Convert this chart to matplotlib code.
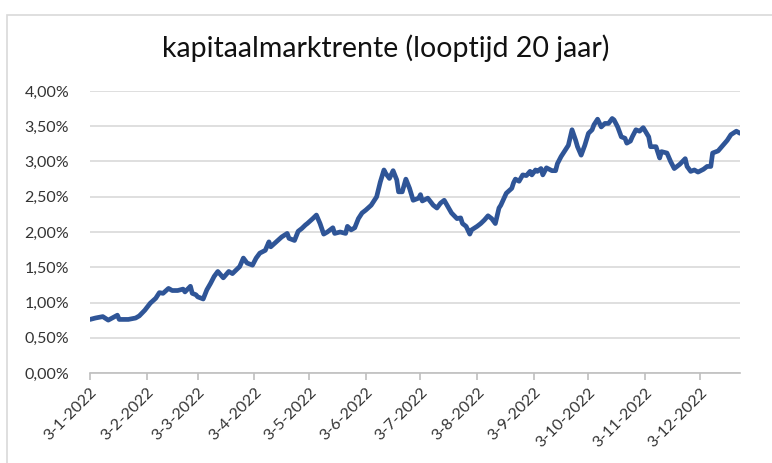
import matplotlib
matplotlib.use("Agg")
import matplotlib.pyplot as plt
import pandas as pd
from matplotlib.patches import Rectangle

title = "kapitaalmarktrente (looptijd 20 jaar)"

dates = [
    "2022-01-03", "2022-01-06", "2022-01-10", "2022-01-13", "2022-01-18", "2022-01-19",
    "2022-01-24", "2022-01-28", "2022-01-30", "2022-02-02", "2022-02-05", "2022-02-08",
    "2022-02-10", "2022-02-12", "2022-02-15", "2022-02-17", "2022-02-20", "2022-02-23",
    "2022-02-24", "2022-02-27", "2022-02-28", "2022-03-02", "2022-03-03", "2022-03-06",
    "2022-03-08", "2022-03-10", "2022-03-12", "2022-03-14", "2022-03-17", "2022-03-20",
    "2022-03-22", "2022-03-24", "2022-03-26", "2022-03-28", "2022-03-30", "2022-04-02",
    "2022-04-04", "2022-04-06", "2022-04-09", "2022-04-11", "2022-04-12", "2022-04-15",
    "2022-04-18", "2022-04-21", "2022-04-22", "2022-04-25", "2022-04-27", "2022-04-29",
    "2022-05-01", "2022-05-02", "2022-05-05", "2022-05-07", "2022-05-09", "2022-05-11",
    "2022-05-13", "2022-05-16", "2022-05-17", "2022-05-20", "2022-05-23", "2022-05-24",
    "2022-05-26", "2022-05-28", "2022-05-30", "2022-06-01", "2022-06-03", "2022-06-06",
    "2022-06-09", "2022-06-11", "2022-06-13", "2022-06-14", "2022-06-16", "2022-06-18",
    "2022-06-20", "2022-06-21", "2022-06-23", "2022-06-25", "2022-06-27", "2022-06-29",
    "2022-07-02", "2022-07-03", "2022-07-04", "2022-07-07", "2022-07-10", "2022-07-12",
    "2022-07-14", "2022-07-16", "2022-07-18", "2022-07-20", "2022-07-23", "2022-07-25",
    "2022-07-26", "2022-07-28", "2022-07-30", "2022-07-31", "2022-08-03", "2022-08-05",
    "2022-08-07", "2022-08-09", "2022-08-11", "2022-08-13", "2022-08-15", "2022-08-16",
    "2022-08-19", "2022-08-22", "2022-08-23", "2022-08-24", "2022-08-26", "2022-08-28",
    "2022-08-30", "2022-09-01", "2022-09-02", "2022-09-04", "2022-09-05", "2022-09-07",
    "2022-09-08", "2022-09-10", "2022-09-13", "2022-09-15", "2022-09-16", "2022-09-18",
    "2022-09-20", "2022-09-22", "2022-09-24", "2022-09-26", "2022-09-27", "2022-09-29",
    "2022-10-01", "2022-10-03", "2022-10-05", "2022-10-06", "2022-10-08", "2022-10-10",
    "2022-10-12", "2022-10-14", "2022-10-16", "2022-10-17", "2022-10-19", "2022-10-21",
    "2022-10-23", "2022-10-24", "2022-10-26", "2022-10-27", "2022-10-29", "2022-10-31",
    "2022-11-02", "2022-11-05", "2022-11-06", "2022-11-09", "2022-11-11", "2022-11-12",
    "2022-11-15", "2022-11-17", "2022-11-19", "2022-11-22", "2022-11-25", "2022-11-26",
    "2022-11-28", "2022-11-30", "2022-12-02", "2022-12-05", "2022-12-07", "2022-12-09",
    "2022-12-10", "2022-12-13", "2022-12-15", "2022-12-18", "2022-12-20", "2022-12-23",
    "2022-12-25",
]

rates = [
    0.76, 0.78, 0.80, 0.75, 0.82, 0.76,
    0.76, 0.78, 0.81, 0.89, 0.99, 1.06,
    1.14, 1.13, 1.20, 1.17, 1.17, 1.19,
    1.15, 1.23, 1.13, 1.11, 1.08, 1.05,
    1.18, 1.27, 1.37, 1.44, 1.35, 1.44,
    1.41, 1.46, 1.51, 1.63, 1.56, 1.53,
    1.63, 1.70, 1.74, 1.86, 1.79, 1.86,
    1.93, 1.98, 1.91, 1.88, 2.01, 2.05,
    2.10, 2.12, 2.19, 2.24, 2.12, 1.97,
    2.00, 2.06, 1.98, 2.00, 1.98, 2.08,
    2.03, 2.06, 2.19, 2.27, 2.31, 2.38,
    2.50, 2.71, 2.88, 2.83, 2.76, 2.87,
    2.74, 2.57, 2.57, 2.75, 2.62, 2.45,
    2.48, 2.53, 2.44, 2.48, 2.38, 2.34,
    2.41, 2.45, 2.36, 2.27, 2.19, 2.20,
    2.12, 2.08, 1.97, 2.03, 2.08, 2.12,
    2.17, 2.23, 2.19, 2.12, 2.34, 2.38,
    2.55, 2.62, 2.70, 2.75, 2.72, 2.81,
    2.80, 2.86, 2.81, 2.88, 2.86, 2.90,
    2.81, 2.91, 2.87, 2.87, 2.97, 3.07,
    3.15, 3.23, 3.45, 3.30, 3.21, 3.09,
    3.23, 3.40, 3.45, 3.52, 3.60, 3.49,
    3.54, 3.54, 3.61, 3.59, 3.49, 3.35,
    3.33, 3.26, 3.29, 3.35, 3.45, 3.43,
    3.48, 3.35, 3.21, 3.21, 3.05, 3.14,
    3.12, 3.00, 2.90, 2.96, 3.04, 2.93,
    2.86, 2.88, 2.85, 2.89, 2.93, 2.93,
    3.12, 3.15, 3.21, 3.30, 3.38, 3.43,
    3.40,
]

tick_dates = [
    "2022-01-03", "2022-02-03", "2022-03-03", "2022-04-03", "2022-05-03", "2022-06-03",
    "2022-07-03", "2022-08-03", "2022-09-03", "2022-10-03", "2022-11-03", "2022-12-03",
]
tick_labels = [
    "3-1-2022", "3-2-2022", "3-3-2022", "3-4-2022", "3-5-2022", "3-6-2022",
    "3-7-2022", "3-8-2022", "3-9-2022", "3-10-2022", "3-11-2022", "3-12-2022",
]
y_ticks = [0.0, 0.5, 1.0, 1.5, 2.0, 2.5, 3.0, 3.5, 4.0]

FONT = ["Lato", "DejaVu Sans"]
plt.rcParams['font.family'] = FONT

W, H = 772, 463
fig = plt.figure(figsize=(W / 100, H / 100), dpi=100)
fig.patch.set_facecolor('white')
fig.patches.append(Rectangle((7 / W, -0.1), 1.2, 1 - 15 / H + 0.1,
                             transform=fig.transFigure, fill=False,
                             edgecolor='#d9d9d9', lw=1.2))

ax = fig.add_axes([90 / W, 1 - 373 / H, 650 / W, 282 / H])
x = pd.to_datetime(dates)
ax.plot(x, rates, color='#2f5597', lw=3.4, solid_joinstyle='round',
        solid_capstyle='round', zorder=3)
ax.set_xlim(x[0], x[-1])
ax.set_ylim(0, 4.0)

ax.set_yticks(y_ticks)
ax.set_yticklabels([f"{v:.2f}".replace('.', ',') + '%' for v in y_ticks])
ax.yaxis.grid(True, color='#d9d9d9', lw=1.2)
ax.set_axisbelow(True)
for s in ['top', 'right', 'left']:
    ax.spines[s].set_visible(False)
ax.spines['bottom'].set_color('#bfbfbf')
ax.spines['bottom'].set_linewidth(1.2)
ax.tick_params(axis='y', length=0, pad=15, labelsize=11.5, labelcolor='#333333')

ax.set_xticks(pd.to_datetime(tick_dates))
ax.set_xticklabels(tick_labels, rotation=45, ha='right', rotation_mode='anchor')
ax.tick_params(axis='x', length=5, width=1.2, color='#bfbfbf', pad=4,
               labelsize=11.5, labelcolor='#333333')

fig.text(0.5, 1 - 48 / H, title, ha='center', va='center', fontsize=20.5,
         color='#111111')

fig.savefig('out.png', dpi=100)
